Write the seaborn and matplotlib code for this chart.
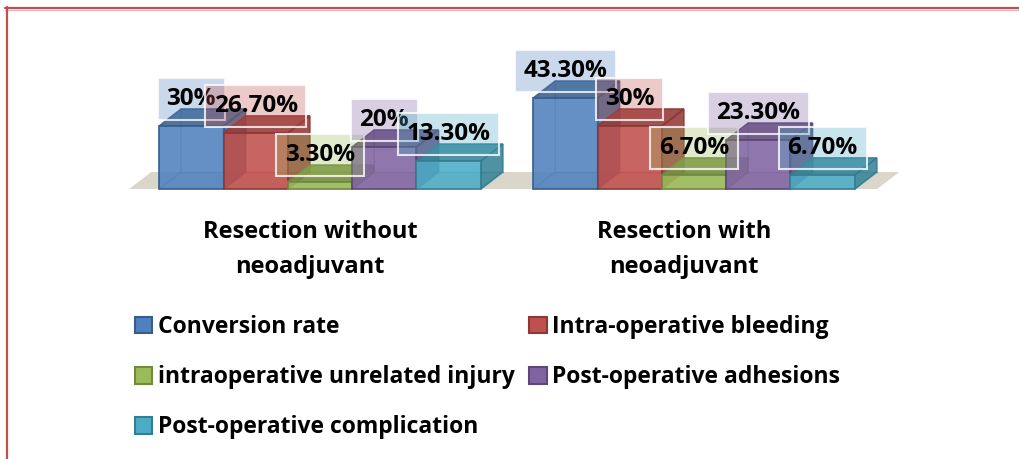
import matplotlib
matplotlib.use('Agg')
import matplotlib.pyplot as plt
import matplotlib.colors as mcolors
import matplotlib.transforms as mtransforms
from matplotlib.patches import Polygon, Patch
from matplotlib.lines import Line2D
import seaborn as sns
import pandas as pd

# 数据
groups = ['Resection without\nneoadjuvant', 'Resection with\nneoadjuvant']
measures = ['Conversion rate', 'Intra-operative bleeding',
            'intraoperative unrelated injury', 'Post-operative adhesions',
            'Post-operative complication']
without_neo = [30, 26.7, 3.3, 20, 13.3]
with_neo = [43.3, 30, 6.7, 23.3, 6.7]

colors = ['#4F81BD', '#C0504D', '#9BBB59', '#8064A2', '#4BACC6']
edge_colors = ['#385D8A', '#8C3836', '#71893F', '#5C4776', '#357D91']

rows = []
for g, vals in zip(groups, [without_neo, with_neo]):
    for m, v in zip(measures, vals):
        rows.append({'group': g, 'measure': m, 'value': v})
df = pd.DataFrame(rows)

sns.set_style('white')
plt.rcParams['font.family'] = ['Open Sans', 'DejaVu Sans']
plt.rcParams['text.color'] = 'black'
plt.rcParams['xtick.color'] = 'black'

fig = plt.figure(figsize=(10.19, 4.59), dpi=100)
W, H = 1019, 459
ax = fig.add_axes([133 / W, (H - 189) / H, 748 / W, 105 / H])

sns.barplot(data=df, x='group', y='value', hue='measure', order=groups,
            hue_order=measures, palette=colors, width=0.86, saturation=1,
            legend=False, ax=ax)
ax.set_xlim(-0.5, 1.5)
ax.set_ylim(0, 50)

# 3D 深度偏移 (数据单位)
ddx = 22 / 374
ddy = 17 / 2.1


def darker(c, f):
    r, g, b = mcolors.to_rgb(c)
    return (r * f, g * f, b * f)


# 地板
floor = Polygon([(-0.51, 0), (1.49, 0), (1.49 + ddx, ddy), (-0.51 + ddx, ddy)],
                closed=True, facecolor='#DAD6C9', edgecolor='none',
                zorder=1, clip_on=False)
ax.add_patch(floor)

bars = []
for ci, cont in enumerate(ax.containers):
    for p in cont.patches:
        bars.append((p.get_x(), p, ci))
bars.sort(key=lambda t: t[0])

for k, (_, p, ci) in enumerate(bars):
    x, w, h = p.get_x(), p.get_width(), p.get_height()
    base = 2 + k
    c, ec = colors[ci], edge_colors[ci]
    side = Polygon([(x + w, 0), (x + w + ddx, ddy), (x + w + ddx, h + ddy), (x + w, h)],
                   closed=True, facecolor=darker(c, 0.78), edgecolor=ec,
                   linewidth=1.2, alpha=0.9, zorder=base, clip_on=False)
    top = Polygon([(x, h), (x + w, h), (x + w + ddx, h + ddy), (x + ddx, h + ddy)],
                  closed=True, facecolor=darker(c, 0.78), edgecolor=ec,
                  linewidth=1.2, alpha=0.9, zorder=base + 0.1, clip_on=False)
    ax.add_patch(side)
    ax.add_patch(top)
    # 透明感的内部棱线
    ax.plot([x, x + ddx, x + ddx], [0, ddy, h + ddy], color=ec, lw=1,
            alpha=0.45, zorder=base + 0.2, clip_on=False)
    ax.plot([x + ddx, x + w + ddx], [ddy, ddy], color=ec, lw=1,
            alpha=0.45, zorder=base + 0.2, clip_on=False)
    p.set_facecolor(mcolors.to_rgba(c, 0.88))
    p.set_edgecolor(ec)
    p.set_linewidth(1.2)
    p.set_zorder(base + 0.3)
    p.set_clip_on(False)

    label = f'{h:.2f}%' if abs(h - round(h)) > 1e-6 else f'{h:.0f}%'
    ax.annotate(label, xy=(x + w / 2, h), xytext=(0, 19.5),
                textcoords='offset points', ha='center', va='center',
                fontsize=17.5, fontweight='bold', color='black', zorder=50,
                bbox=dict(boxstyle='square,pad=0.36',
                          facecolor=mcolors.to_rgba(c, 0.3),
                          edgecolor=(1, 1, 1, 0.8), linewidth=1.5))

sns.despine(ax=ax, left=True, bottom=True)
ax.set_yticks([])
ax.set_xlabel('')
ax.set_ylabel('')
ax.set_xticks([0, 1])
ax.set_xticklabels(groups, fontsize=17, fontweight='bold', linespacing=1.62,
                   color='black')
ax.tick_params(axis='x', length=0, pad=22)
shift = mtransforms.ScaledTranslation(-10 / 100, 0, fig.dpi_scale_trans)
for lbl in ax.get_xticklabels():
    lbl.set_transform(lbl.get_transform() + shift)
ax.patch.set_alpha(0)

# 图例 (按行排列)
handles = [Patch(facecolor=c, edgecolor=e, linewidth=1.5)
           for c, e in zip(colors, edge_colors)]
order = [0, 2, 4, 1, 3]
fig.legend([handles[i] for i in order], [measures[i] for i in order],
           ncol=2, loc='upper left', bbox_to_anchor=(135 / W, 1 - 315 / H),
           frameon=False, prop={'size': 16.5, 'weight': 'bold'},
           labelcolor='black',
           handlelength=0.76, handleheight=0.76, handletextpad=0.25,
           columnspacing=0.62, labelspacing=1.14, borderpad=0,
           borderaxespad=0)

# 外框红线
fig.add_artist(Line2D([5 / W, 1], [1 - 7.5 / H, 1 - 7.5 / H],
                      transform=fig.transFigure, color='#C0504D', lw=1.6))
fig.add_artist(Line2D([5 / W, 1], [1 - 9.5 / H, 1 - 9.5 / H],
                      transform=fig.transFigure, color='#E8B4B2', lw=0.8))
fig.add_artist(Line2D([7 / W, 7 / W], [0, 1 - 7 / H],
                      transform=fig.transFigure, color='#C0504D', lw=1.6))

fig.savefig('out.png', dpi=100)
